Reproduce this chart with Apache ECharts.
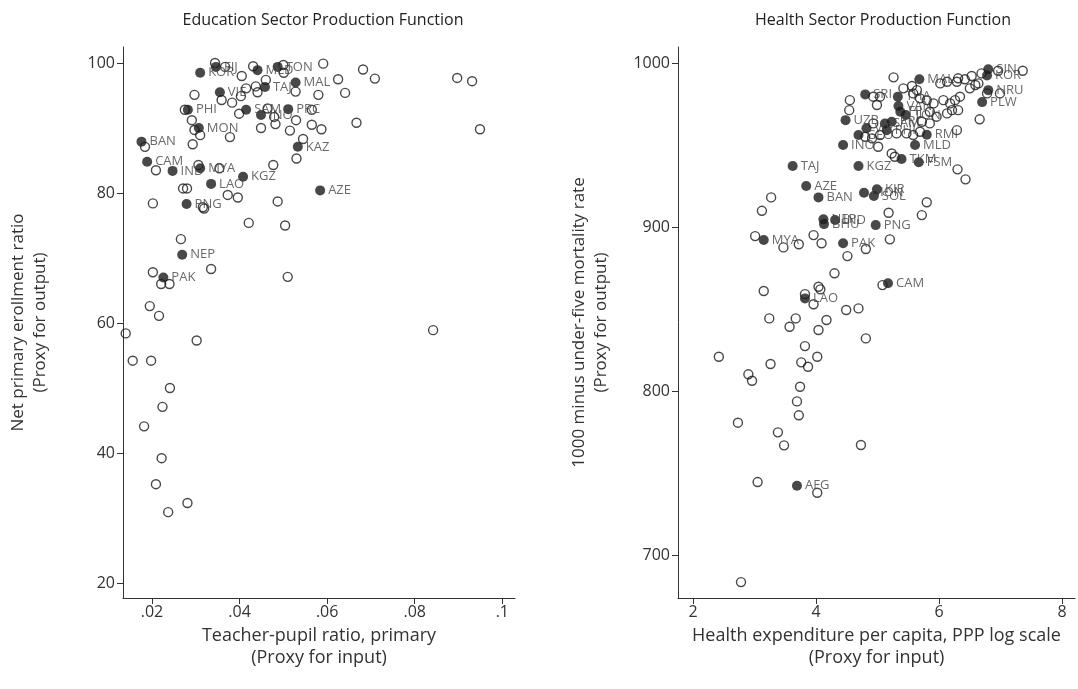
<!DOCTYPE html>
<html><head><meta charset="utf-8">
<script src="https://cdn.jsdelivr.net/npm/echarts@6/dist/echarts.min.js"></script>
<style>html,body{margin:0;padding:0;background:#fff}#c{width:1078px;height:689px}</style>
</head><body><div id="c"></div>
<script>
// ---------- Education panel data ----------
const eduOpenX = [0.0344,0.0367,0.0431,0.0500,0.0501,0.0591,0.0682,0.0709,0.0897,0.0931,0.0949,0.0842,0.0405,0.0460,0.0625,0.0641,0.0528,0.0580,0.0437,0.0441,0.0415,0.0403,0.0383,0.0359,0.0297,0.0275,0.0291,0.0399,0.0464,0.0479,0.0482,0.0449,0.0529,0.0565,0.0565,0.0587,0.0667,0.0515,0.0545,0.0530,0.0378,0.0293,0.0310,0.0297,0.0184,0.0209,0.0306,0.0354,0.0477,0.0271,0.0280,0.0373,0.0396,0.0202,0.0316,0.0319,0.0487,0.0421,0.0504,0.0266,0.0335,0.0202,0.0221,0.0240,0.0510,0.0195,0.0216,0.0140,0.0302,0.0156,0.0198,0.0241,0.0224,0.0182,0.0222,0.0209,0.0281,0.0237];
const eduOpenY = [100.0,99.4,99.5,99.7,98.5,99.9,99.0,97.6,97.7,97.2,89.8,58.9,98.0,97.4,97.5,95.4,95.6,95.1,96.4,95.5,96.1,94.9,93.9,94.3,95.1,92.8,91.2,92.2,93.0,91.7,90.6,90.0,91.2,92.8,90.5,89.8,90.8,89.6,88.3,85.3,88.6,87.5,88.9,89.7,87.1,83.5,84.3,83.8,84.3,80.7,80.7,79.7,79.3,78.4,77.8,77.6,78.7,75.4,75.0,72.9,68.3,67.8,66.0,66.0,67.1,62.6,61.1,58.4,57.3,54.2,54.2,50.0,47.1,44.1,39.2,35.2,32.3,30.9];
const eduLabels = ["FIJ","MLD","TON","KOR","VIE","TAJ","MAL","PHI","SAM","INO","PRC","MON","BAN","KAZ","CAM","IND","MYA","LAO","KGZ","AZE","PNG","NEP","PAK"];
const eduFilledX = [0.0346,0.0441,0.0487,0.0310,0.0355,0.0458,0.0528,0.0282,0.0415,0.0449,0.0511,0.0307,0.0176,0.0533,0.0189,0.0247,0.0310,0.0335,0.0408,0.0584,0.0279,0.0269,0.0226];
const eduFilledY = [99.4,98.9,99.4,98.5,95.5,96.3,97.0,92.8,92.8,92.0,92.9,90.0,87.9,87.1,84.8,83.4,83.8,81.4,82.5,80.4,78.3,70.5,67.0];
const eduXTicks = [0.02,0.04,0.06,0.08,0.1];
const eduYTicks = [20,40,60,80,100];

// ---------- Health panel data ----------
const hOpenX = [7.36,6.96,6.69,6.53,6.42,6.31,6.29,6.13,6.02,6.59,6.50,6.64,6.78,6.99,6.34,6.26,6.31,6.21,6.66,6.29,5.26,5.42,5.56,5.64,4.55,4.54,4.93,4.99,5.04,5.58,5.69,5.80,5.91,6.07,6.18,5.85,5.96,6.13,5.72,5.85,4.93,5.04,4.91,4.80,5.31,5.47,5.58,5.69,5.01,5.23,5.28,6.30,6.43,3.27,3.12,5.80,5.72,5.18,3.01,3.47,3.72,3.96,4.09,4.81,5.20,4.51,4.30,5.08,3.15,4.04,4.07,3.82,3.96,4.49,4.69,3.24,3.67,3.57,4.17,4.04,4.81,3.82,2.42,3.26,3.76,3.87,4.02,2.90,2.96,3.74,3.69,3.72,2.73,3.38,3.48,4.73,3.05,4.02,2.78];
const hOpenY = [995.3,995.3,993.7,992.1,990.1,990.7,988.6,988.6,987.6,986.6,984.6,987.6,981.5,981.5,979.5,977.4,971.3,971.3,965.7,959.1,991.3,984.6,986.0,983.5,977.4,971.3,979.5,974.4,979.5,981.5,978.5,977.4,975.4,977.4,975.4,970.3,967.3,969.3,964.2,963.2,963.2,956.1,954.1,955.1,957.1,957.1,956.1,958.1,949.0,944.9,942.9,935.2,929.1,918.1,909.9,915.1,907.3,908.7,894.5,887.6,889.5,895.1,890.1,886.6,892.5,882.3,871.8,864.6,861.0,863.6,862.0,859.1,852.9,849.4,850.4,844.3,844.3,839.2,843.3,837.2,832.1,827.4,820.9,816.5,817.5,814.8,820.9,810.2,806.3,802.6,793.7,785.2,780.7,774.8,766.9,767.1,744.5,738.0,683.5];
const hLabels = ["SIN","KOR","NRU","PLW","MAL","SRI","THA","VAN","FIJ","TON","UZB","VIE","SAM","PRC","PHI","GEO","RMI","INO","MLD","TKM","FSM","TAJ","KGZ","AZE","BAN","MON","KIR","SOL","NEP","BHU","IND","PNG","MYA","PAK","CAM","LAO","AFG"];
const hFilledX = [6.80,6.78,6.80,6.70,5.68,4.80,5.33,5.34,5.37,5.46,4.48,4.82,5.12,5.23,5.15,4.69,5.80,4.44,5.61,5.39,5.67,3.62,4.69,3.84,4.04,4.78,4.99,4.94,4.12,4.13,4.31,4.97,3.15,4.44,5.17,3.82,3.69];
const hFilledY = [996.2,992.4,983.5,976.2,990.1,980.9,979.5,973.8,970.3,968.3,965.2,960.2,963.2,964.2,959.1,956.1,956.3,950.0,950.0,941.5,939.5,937.2,937.2,925.0,918.1,920.9,923.0,918.9,904.7,901.8,904.3,901.2,892.1,890.1,865.7,856.5,742.3];
const hXTicks = [2,4,6,8];
const hYTicks = [700,800,900,1000];

// ---------- build ----------
const zip = (xs, ys) => xs.map((x, i) => [x, ys[i]]);
const zipL = (xs, ys, ls) => xs.map((x, i) => ({value: [x, ys[i]], name: ls[i]}));

const FONT = 'Open Sans, Noto Sans, sans-serif';
const tickFont = {fontFamily: FONT, fontSize: 16, color: '#333'};
const xNameFont = {fontFamily: FONT, fontSize: 18, color: '#333', lineHeight: 22};
const yNameFont = {fontFamily: FONT, fontSize: 17, color: '#333', lineHeight: 22};
const lblFont = {fontFamily: FONT, fontSize: 13, color: '#444'};
const axLine = {show: true, lineStyle: {color: '#333', width: 1}};

function xAxis(idx, min, max, ticks, name, fmt) {
  return {type: 'value', gridIndex: idx, min, max, position: 'bottom',
    axisLine: axLine, splitLine: {show: false},
    axisTick: {show: true, inside: false, length: 6, customValues: ticks, lineStyle: {color: '#333'}},
    axisLabel: Object.assign({customValues: ticks, margin: 6, formatter: fmt}, tickFont),
    name, nameLocation: 'middle', nameGap: 19, nameTextStyle: xNameFont};
}
function yAxis(idx, min, max, ticks, name, gap) {
  return {type: 'value', gridIndex: idx, min, max, position: 'left',
    axisLine: axLine, splitLine: {show: false},
    axisTick: {show: true, inside: false, length: 6, customValues: ticks, lineStyle: {color: '#333'}},
    axisLabel: Object.assign({customValues: ticks, margin: 8, formatter: v => String(v)}, tickFont),
    name, nameLocation: 'middle', nameGap: gap, nameRotate: 90, nameTextStyle: yNameFont};
}
const openStyle = {color: 'rgba(0,0,0,0)', borderColor: '#1a1a1a', borderWidth: 1.4};
const fillStyle = {color: '#1a1a1a', borderColor: '#1a1a1a', borderWidth: 0};

const option = {
  animation: false,
  backgroundColor: '#fff',
  title: [
    {text: 'Education Sector Production Function', left: 318, top: 7, textAlign: 'center',
     textStyle: {fontFamily: FONT, fontSize: 16, fontWeight: 'normal', color: '#222'}},
    {text: 'Health Sector Production Function', left: 878, top: 7, textAlign: 'center',
     textStyle: {fontFamily: FONT, fontSize: 16, fontWeight: 'normal', color: '#222'}}
  ],
  grid: [
    {left: 123, top: 47, width: 392, height: 551},
    {left: 678, top: 47, width: 397, height: 551}
  ],
  xAxis: [
    xAxis(0, 0.01338, 0.1029, eduXTicks, 'Teacher-pupil ratio, primary\n(Proxy for input)',
      v => String(+(+v).toFixed(2)).replace(/^0\./, '.')),
    xAxis(1, 1.756, 8.21, hXTicks, 'Health expenditure per capita, PPP log scale\n(Proxy for input)', v => String(v))
  ],
  yAxis: [
    yAxis(0, 17.69, 102.46, eduYTicks, 'Net primary erollment ratio\n(Proxy for output)', 72),
    yAxis(1, 673.8, 1009.8, hYTicks, '1000 minus under-five mortality rate\n(Proxy for output)', 66)
  ],
  series: [
    {type: 'scatter', xAxisIndex: 0, yAxisIndex: 0, symbol: 'circle', symbolSize: 9,
     itemStyle: openStyle, data: zip(eduOpenX, eduOpenY), z: 2},
    {type: 'scatter', xAxisIndex: 0, yAxisIndex: 0, symbol: 'circle', symbolSize: 10,
     itemStyle: fillStyle, data: zipL(eduFilledX, eduFilledY, eduLabels), z: 3,
     label: Object.assign({show: true, position: 'right', distance: 3, formatter: p => p.name}, lblFont),
     labelLayout: {hideOverlap: false}},
    {type: 'scatter', xAxisIndex: 1, yAxisIndex: 1, symbol: 'circle', symbolSize: 9,
     itemStyle: openStyle, data: zip(hOpenX, hOpenY), z: 2},
    {type: 'scatter', xAxisIndex: 1, yAxisIndex: 1, symbol: 'circle', symbolSize: 10,
     itemStyle: fillStyle, data: zipL(hFilledX, hFilledY, hLabels), z: 3,
     label: Object.assign({show: true, position: 'right', distance: 3, formatter: p => p.name}, lblFont),
     labelLayout: {hideOverlap: false}}
  ]
};
echarts.init(document.getElementById('c'), null, {renderer: 'canvas'}).setOption(option);
</script>
</body></html>
